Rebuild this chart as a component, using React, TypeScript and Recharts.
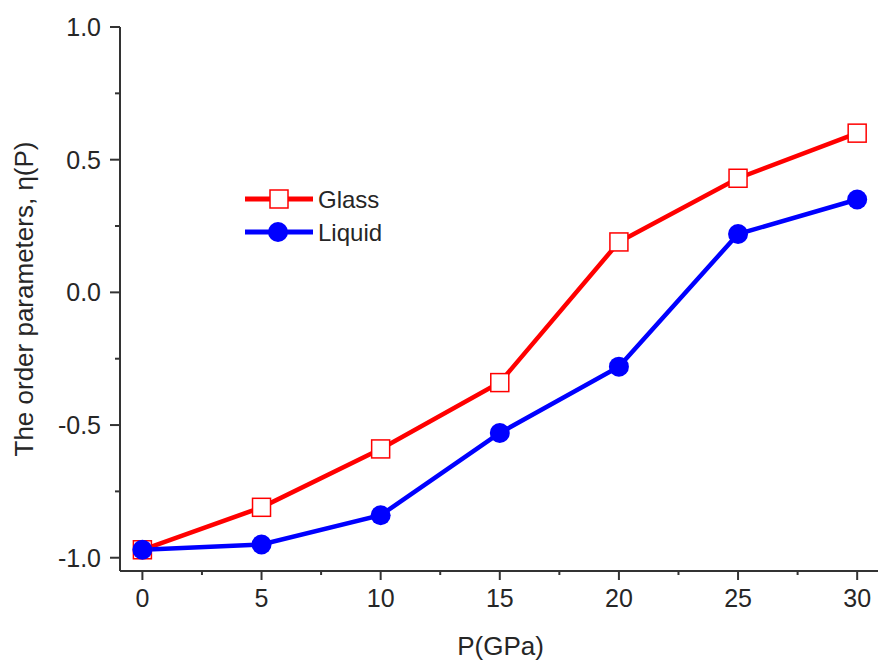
// App.tsx - order parameter η(P) vs pressure for glass and liquid
import React from 'react'
import { LineChart, Line, XAxis, YAxis, Label } from 'recharts'

const pressure = [0, 5, 10, 15, 20, 25, 30]
const glassEta = [-0.97, -0.81, -0.59, -0.34, 0.19, 0.43, 0.6]
const liquidEta = [-0.97, -0.95, -0.84, -0.53, -0.28, 0.22, 0.35]

const xTicks = [0, 2.5, 5, 7.5, 10, 12.5, 15, 17.5, 20, 22.5, 25, 27.5, 30]
const yTicks = [-1, -0.75, -0.5, -0.25, 0, 0.25, 0.5, 0.75, 1]

const AXIS = '#333333'
const TEXT = '#262626'
const FONT = '"Liberation Sans", Arial, sans-serif'
const RED = '#ff0000'
const BLUE = '#0000ff'

const data = pressure.map((p, i) => ({ p, glass: glassEta[i], liquid: liquidEta[i] }))

const XTick = ({ x, y, payload }: any) => {
  const major = payload.value % 5 === 0
  return (
    <g>
      <line x1={x} x2={x} y1={y} y2={y + (major ? 9 : 4)} stroke={AXIS} strokeWidth={2} />
      {major && (
        <text x={x} y={y + 36} textAnchor="middle" fontSize={25} fill={TEXT} fontFamily={FONT}>
          {payload.value}
        </text>
      )}
    </g>
  )
}

const YTick = ({ x, y, payload }: any) => {
  const v = payload.value
  const major = Math.abs(v * 2 - Math.round(v * 2)) < 1e-6
  return (
    <g>
      <line x1={x - (major ? 10 : 5)} x2={x} y1={y} y2={y} stroke={AXIS} strokeWidth={2} />
      {major && (
        <text x={x - 19} y={y + 9} textAnchor="end" fontSize={25} fill={TEXT} fontFamily={FONT}>
          {v.toFixed(1)}
        </text>
      )}
    </g>
  )
}

const SquareDot = ({ cx, cy }: any) => (
  <rect x={cx - 9} y={cy - 9} width={18} height={18} fill="#fff" stroke={RED} strokeWidth={1.5} />
)

const CircleDot = ({ cx, cy }: any) => <circle cx={cx} cy={cy} r={10} fill={BLUE} />

// legend drawn as an overlay so it doesn't eat into the plot height
const LegendBox = () => (
  <svg width={200} height={80} style={{ position: 'absolute', left: 240, top: 180 }}>
    <line x1={5} x2={73} y1={19} y2={19} stroke={RED} strokeWidth={5} />
    <rect x={30} y={10} width={18} height={18} fill="#fff" stroke={RED} strokeWidth={1.5} />
    <text x={78} y={28} fontSize={24} fill={TEXT} fontFamily={FONT}>Glass</text>
    <line x1={5} x2={73} y1={52} y2={52} stroke={BLUE} strokeWidth={5} />
    <circle cx={38} cy={52} r={10} fill={BLUE} />
    <text x={78} y={61} fontSize={24} fill={TEXT} fontFamily={FONT}>Liquid</text>
  </svg>
)

const XTitle = ({ viewBox }: any) => (
  <text x={viewBox.x + viewBox.width / 2} y={viewBox.y + 84} textAnchor="middle" fontSize={26} fill={TEXT} fontFamily={FONT}>
    P(GPa)
  </text>
)

const YTitle = ({ viewBox }: any) => {
  const cx = 33
  const cy = viewBox.y + viewBox.height / 2
  return (
    <text x={cx} y={cy} transform={`rotate(-90, ${cx}, ${cy})`} textAnchor="middle" fontSize={26} fill={TEXT} fontFamily={FONT}>
      The order parameters, η(P)
    </text>
  )
}

export default function App() {
  return (
    <div style={{ position: 'fixed', left: 0, top: 0, width: 878, height: 664, overflow: 'hidden', background: '#fff' }}>
      <LineChart width={886} height={664} data={data} margin={{ top: 27, right: 5, bottom: 0, left: 0 }}>
        <XAxis
          dataKey="p"
          type="number"
          domain={[-0.94, 31]}
          ticks={xTicks}
          interval={0}
          tickSize={0}
          tickMargin={0}
          tickLine={false}
          tick={<XTick />}
          height={93}
          axisLine={{ stroke: AXIS, strokeWidth: 2 }}
        >
          <Label content={<XTitle />} />
        </XAxis>
        <XAxis
          xAxisId="top"
          orientation="top"
          type="number"
          domain={[-0.94, 31]}
          height={0}
          tick={false}
          tickLine={false}
          axisLine={{ stroke: AXIS, strokeWidth: 2 }}
        />
        <YAxis
          type="number"
          domain={[-1.05, 1]}
          ticks={yTicks}
          interval={0}
          tickSize={0}
          tickMargin={0}
          tickLine={false}
          tick={<YTick />}
          width={120}
          axisLine={{ stroke: AXIS, strokeWidth: 2 }}
        >
          <Label content={<YTitle />} />
        </YAxis>
        <Line
          dataKey="glass"
          name="Glass"
          type="linear"
          stroke={RED}
          strokeWidth={4.5}
          dot={<SquareDot />}
          isAnimationActive={false}
        />
        <Line
          dataKey="liquid"
          name="Liquid"
          type="linear"
          stroke={BLUE}
          strokeWidth={4.5}
          dot={<CircleDot />}
          isAnimationActive={false}
        />
      </LineChart>
      <LegendBox />
    </div>
  )
}
